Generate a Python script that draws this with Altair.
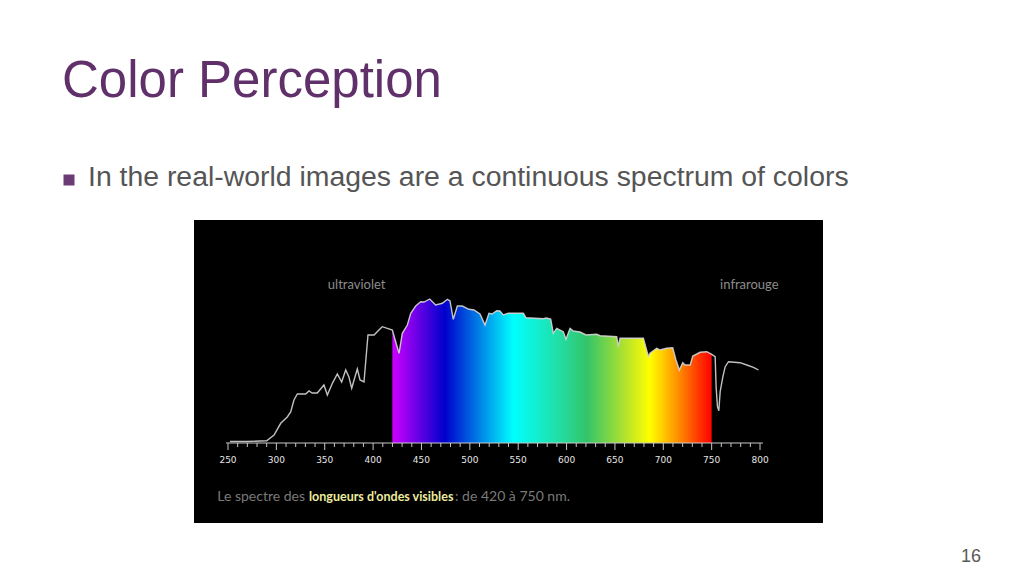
import altair as alt
import pandas as pd

# ---------------- data ----------------
slide_title = "Color Perception"
bullet_text = "In the real-world images are a continuous spectrum of colors"
page_number = "16"

# solar spectrum (wavelength in nm, relative intensity in arbitrary units)
wavelength_nm = [252, 270, 290, 297.6, 304.5, 311.3, 314.8, 318.2, 321.7, 330.3,
                 333.7, 337, 342.3, 349.2, 352.7, 357.9, 363, 367.5, 371.7, 375,
                 377.9, 380.3, 383.7, 386.5, 390.6, 394.7, 401, 406, 409.5, 414.7,
                 419.9, 423.4, 426.8, 430.2, 435.4, 438.9, 444, 449.2, 452.6, 458.5,
                 464.7, 471.6, 476.8, 479.5, 482.9, 487.1, 492.2, 499.1, 504.3, 510.5,
                 515.7, 519.8, 523, 527.8, 531, 534.6, 539.8, 555.3, 558, 576,
                 579, 583.6, 586.3, 589.8, 596.6, 599.4, 603.6, 607, 613.9, 620.1,
                 631.1, 634.6, 651.8, 653.5, 655.3, 679.4, 684.6, 686.3, 693.2, 696.6,
                 703.5, 709.7, 713.1, 716.6, 720.1, 722.5, 727.8, 730.5, 738.1, 745,
                 750, 753.6, 754.6, 756, 757.4, 758.8, 761.6, 764, 767.4, 779.4,
                 786.3, 793.2, 798.4]
intensity = [1.5, 1.5, 2.3, 8, 19.7, 26, 31, 43, 49, 49,
             52, 50, 50, 58, 48, 59.7, 69, 61, 73, 66,
             54.7, 63, 74, 63, 61, 108, 108, 113, 116.3, 114.7,
             113, 101, 89.7, 109.7, 118, 129.7, 137, 141.3, 141, 144,
             138, 139.7, 143.7, 142, 123.7, 137, 137, 133.7, 133, 129,
             118, 129.7, 129, 132.3, 132, 128, 129.7, 129.7, 125.3, 124.3,
             125, 124, 109.7, 114.7, 111.3, 103.7, 114.7, 112, 111, 108,
             108.7, 107.3, 106.3, 96.3, 104.7, 104.7, 86.3, 89.7, 94.7, 93,
             94.7, 95.3, 83, 73, 80.3, 78, 78, 87, 90.7, 91.3,
             88.7, 86.3, 56.3, 36.3, 32.3, 51.3, 66.3, 76.3, 81.3, 80.3,
             78, 75.7, 73]

visible_from, visible_to = 419.9, 750

# colour ramp of the visible band (wavelength -> colour)
ramp_nm = [420, 474, 545, 590, 621, 667, 686, 719, 750]
ramp_colors = ["#cc00ff", "#0000cc", "#00ffff", "#20e0a8", "#33c46a",
               "#c8e822", "#ffff00", "#ff8000", "#ff0000"]

tick_nm = list(range(250, 801, 10))
label_nm = [250, 300, 350, 400, 450, 500, 550, 600, 650, 700, 750, 800]
axis_extent = [248, 803]

region_names = ["ultraviolet", "infrarouge"]
region_nm = [383, 789]
region_level = [158, 158]

caption_parts = ["Le spectre des", "longueurs d'ondes visibles", ": de 420 à 750 nm."]

# ---------------- chart ----------------
X = alt.Scale(domain=[214.85, 865.1], nice=False, zero=False)
Y = alt.Scale(domain=[-80, 223], nice=False, zero=False)

spectrum = pd.DataFrame({"wl": wavelength_nm, "v": intensity})

stops = [alt.GradientStop(color=c, offset=max(0.0, min(1.0, (w - visible_from) / (visible_to - visible_from))))
         for w, c in zip(ramp_nm, ramp_colors)]
gradient = alt.Gradient(gradient="linear", stops=stops, x1=0, x2=1, y1=0.5, y2=0.5)

visible = alt.Chart(spectrum).transform_filter(
    f"datum.wl >= {visible_from} && datum.wl <= {visible_to}"
).transform_calculate(base="0").mark_area(color=gradient, interpolate="linear").encode(
    x=alt.X("wl:Q", scale=X, axis=None),
    y=alt.Y("v:Q", scale=Y, axis=None),
    y2="base:Q",
)

curve = alt.Chart(spectrum).mark_line(color="#d6d6d6", strokeWidth=1.4, opacity=0.9).encode(
    x=alt.X("wl:Q", scale=X, axis=None),
    y=alt.Y("v:Q", scale=Y, axis=None),
)

axis_line = alt.Chart(pd.DataFrame({"a": [axis_extent[0]], "b": [axis_extent[1]]})).transform_calculate(
    base="0"
).mark_rule(color="#c8c8c8", strokeWidth=1.2).encode(
    x=alt.X("a:Q", scale=X, axis=None), x2="b:Q",
    y=alt.Y("base:Q", scale=Y, axis=None),
)

ticks = alt.Chart(pd.DataFrame({"t": tick_nm})).transform_calculate(
    base="0", tl="datum.t % 50 === 0 ? -7 : -4"
).mark_rule(color="#c8c8c8", strokeWidth=1).encode(
    x=alt.X("t:Q", scale=X, axis=None),
    y=alt.Y("base:Q", scale=Y, axis=None),
    y2="tl:Q",
)

labels = alt.Chart(pd.DataFrame({"t": label_nm})).transform_calculate(
    ly="-17"
).mark_text(
    font="DejaVu Sans", fontSize=9, color="#e6e6e6", baseline="middle", align="center"
).encode(
    x=alt.X("t:Q", scale=X, axis=None),
    y=alt.Y("ly:Q", scale=Y, axis=None),
    text="t:Q",
)

regions = alt.Chart(pd.DataFrame({"name": region_names, "wl": region_nm, "v": region_level})).mark_text(
    font="Lato", fontSize=13, color="#8c8c8c", baseline="middle", align="center"
).encode(
    x=alt.X("wl:Q", scale=X, axis=None),
    y=alt.Y("v:Q", scale=Y, axis=None),
    text="name:N",
)


def text_layer(txt, x, y, **kw):
    return alt.Chart(pd.DataFrame({"s": [txt]})).mark_text(**kw).encode(
        x=alt.value(x), y=alt.value(y), text="s:N"
    )

# plot area origin is at page (194, 220)
cap1 = text_layer(caption_parts[0], 305 - 194, 497 - 220, font="Lato", fontSize=14,
                  color="#7a7a7a", align="right", baseline="middle")
cap2 = text_layer(caption_parts[1], 309 - 194, 497 - 220, font="Lato", fontSize=12.5,
                  fontWeight="bold", color="#ecec9e", align="left", baseline="middle")
cap3 = text_layer(caption_parts[2], 455 - 194, 497 - 220, font="Lato", fontSize=14,
                  color="#7a7a7a", align="left", baseline="middle")

title = text_layer(slide_title, 62 - 194, 97 - 220, font="Liberation Sans", fontSize=51,
                   color="#60306a", align="left", baseline="alphabetic")
bullet_sq = alt.Chart(pd.DataFrame({"s": [1]})).mark_square(
    size=121, color="#6b3b76", opacity=1, filled=True
).encode(x=alt.value(69 - 194), y=alt.value(180 - 220))
bullet = text_layer(bullet_text, 88 - 194, 186 - 220, font="Liberation Sans", fontSize=28.4,
                    color="#555555", align="left", baseline="alphabetic")
pnum = text_layer(page_number, 971 - 194, 562 - 220, font="Liberation Sans", fontSize=18,
                  color="#595959", align="center", baseline="alphabetic")

chart = alt.layer(
    visible, curve, axis_line, ticks, labels, regions, cap1, cap2, cap3,
    title, bullet_sq, bullet, pnum
).properties(
    width=629, height=303,
    padding={"left": 186, "top": 212, "right": 193, "bottom": 45},
    autosize=alt.AutoSizeParams(type="none"),
    background="white",
).configure_view(fill="black", strokeWidth=0)

chart.save("out.html", embed_options={"renderer": "svg", "actions": False})
